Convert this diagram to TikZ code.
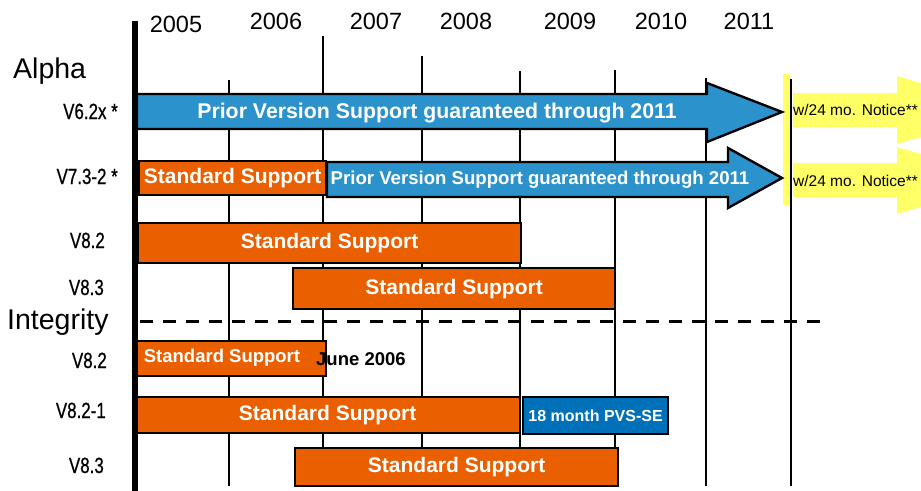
\documentclass[tikz,border=0pt]{standalone}
\usepackage{fontspec}
\setmainfont{Liberation Sans}
\newfontfamily\narrowfont{Liberation Sans}[FakeStretch=0.77,FakeBold=0.6]
\definecolor{orangebar}{RGB}{234,96,0}
\definecolor{bluearrow}{RGB}{43,146,203}
\definecolor{bluebox}{RGB}{0,113,185}
\definecolor{yellowarrow}{RGB}{255,255,102}
\tikzset{
  grid/.style={line width=2.6pt,black},
  axis/.style={line width=6pt,black},
  obar/.style={draw=black,line width=2.2pt,fill=orangebar,inner sep=0pt,anchor=north west,text=white,font=\fontsize{21}{21}\selectfont\bfseries},
  bbox/.style={draw=black,line width=2.2pt,fill=bluebox,inner sep=0pt,anchor=north west,text=white,font=\fontsize{16}{16}\selectfont\bfseries},
  barrow/.style={draw=black,line width=2.4pt,fill=bluearrow},
  yarrow/.style={fill=yellowarrow},
  year/.style={anchor=base,inner sep=0pt,font=\fontsize{23.5}{23.5}\selectfont},
  ver/.style={anchor=base east,inner sep=0pt,font=\narrowfont\fontsize{22}{22}\selectfont},
  group/.style={anchor=base west,inner sep=0pt,font=\fontsize{28.5}{28.5}\selectfont},
  wtext/.style={text=white,inner sep=0pt,font=\bfseries},
}
\begin{document}
\begin{tikzpicture}[x=1pt,y=-1pt]
\clip (0,0) rectangle (921,490);
\fill[white] (0,0) rectangle (921,490);
% grid lines
\coordinate (g1t) at (229,80);  \coordinate (g1b) at (229,486);
\coordinate (g2t) at (323,36);  \coordinate (g2b) at (323,486);
\coordinate (g3t) at (422,56);  \coordinate (g3b) at (422,486);
\coordinate (g4t) at (520,71);  \coordinate (g4b) at (520,486);
\coordinate (g5t) at (615,70);  \coordinate (g5b) at (615,486);
\coordinate (g6t) at (706,78);  \coordinate (g6b) at (706,486);
\coordinate (g7t) at (791,79);  \coordinate (g7b) at (791,486);
\foreach \i in {1,...,7} {\draw[grid] (g\i t) -- (g\i b);}
% dashed separator
\coordinate (d1) at (140,321); \coordinate (d2) at (823,321);
\draw[line width=3pt,dash pattern=on 13pt off 10pt] (d1) -- (d2);
% main axis
\coordinate (a1) at (135,21); \coordinate (a2) at (135,492);
% year labels
\node[year] (y2005) at (176,32) {2005};
\node[year] (y2006) at (276,29) {2006};
\node[year] (y2007) at (376,29) {2007};
\node[year] (y2008) at (466,29) {2008};
\node[year] (y2009) at (570,29) {2009};
\node[year] (y2010) at (661,29) {2010};
\node[year] (y2011) at (749,29) {2011};
% group labels
\node[group] (alpha) at (13,78) {Alpha};
\node[group] (integ) at (7,329) {Integrity};
% version labels
\node[ver] (v1) at (118,119) {V6.2x *};
\node[ver] (v2) at (118,184) {V7.3-2 *};
\node[ver] (v3) at (105,248) {V8.2};
\node[ver] (v4) at (104,295) {V8.3};
\node[ver] (v5) at (107,368) {V8.2};
\node[ver] (v6) at (106,418) {V8.2-1};
\node[ver] (v7) at (104,473) {V8.3};
% yellow notice
\fill[yellowarrow] (783,74) rectangle (790,205);
\fill[yarrow] (793,93) -- (897,93) -- (897,76) -- (1010,110) -- (897,144) -- (897,127) -- (793,127) -- cycle;
\fill[yarrow] (793,163) -- (897,163) -- (897,147) -- (1010,181) -- (897,214) -- (897,197) -- (793,197) -- cycle;
\node[anchor=west,inner sep=0pt,font=\fontsize{15.5}{15.5}\selectfont] (n1) at (793,110) {w/24 mo. Notice**};
\node[anchor=west,inner sep=0pt,font=\fontsize{15.5}{15.5}\selectfont] (n2) at (793,181) {w/24 mo. Notice**};
% blue arrows
\draw[barrow] (137,94) -- (707,94) -- (707,83) -- (782,112) -- (707,142) -- (707,129) -- (137,129) -- cycle;
\node[wtext,font=\fontsize{21.3}{21.3}\selectfont\bfseries] (p1) at (437,113) {Prior Version Support guaranteed through 2011};
\draw[barrow] (327,162) -- (728,162) -- (728,148) -- (782,178) -- (728,208) -- (728,197) -- (327,197) -- cycle;
\node[wtext,font=\fontsize{18.6}{18.6}\selectfont\bfseries] (p2) at (540,180) {Prior Version Support guaranteed through 2011};
% orange bars
\node[obar,minimum width=187pt,minimum height=34pt] (s2) at (138,160) {Standard Support};
\node[obar,minimum width=383pt,minimum height=40pt] (s3) at (137,222) {Standard Support};
\node[obar,minimum width=322pt,minimum height=41pt] (s4) at (292,267) {Standard Support};
\node[obar,minimum width=192pt,minimum height=35pt] (s5) at (133,340) {};
\node[wtext,font=\fontsize{18.5}{18.5}\selectfont\bfseries] (s5t) at (222,358) {Standard Support};
\node[anchor=west,inner sep=0pt,font=\fontsize{18.5}{18.5}\selectfont\bfseries] (june) at (316,359) {June 2006};
\node[obar,minimum width=385pt,minimum height=36pt] (s6) at (134,396) {Standard Support};
\node[bbox,minimum width=145pt,minimum height=37pt] (pvs) at (522,396) {18 month PVS-SE};
\node[obar,minimum width=323pt,minimum height=38pt] (s7) at (294,447) {Standard Support};
% main axis on top
\draw[axis] (a1) -- (a2);
\end{tikzpicture}
\end{document}
